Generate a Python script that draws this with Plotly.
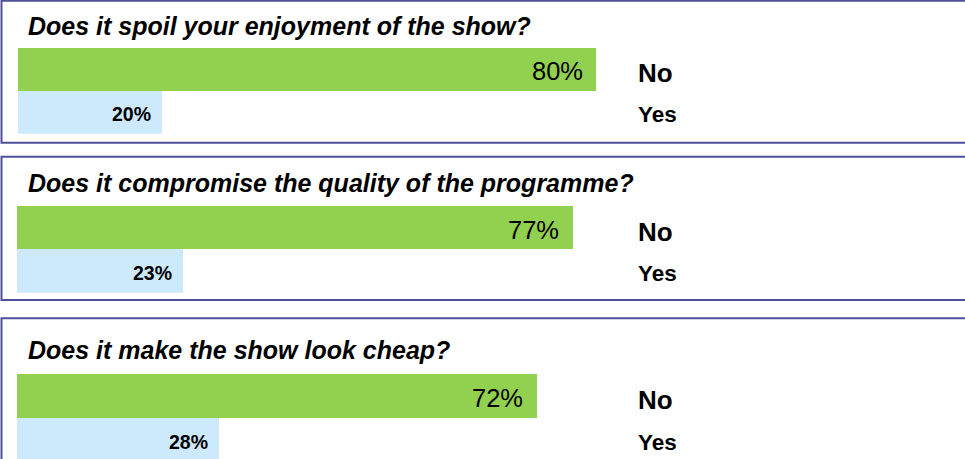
import plotly.graph_objects as go

# ---- data ----
questions = [
    "Does it spoil your enjoyment of the show?",
    "Does it compromise the quality of the programme?",
    "Does it make the show look cheap?",
]
answers = ["Yes", "No"]          # bottom -> top within each panel
no_pct = [80, 77, 72]
yes_pct = [20, 23, 28]

W, H = 965, 459
GREEN = "#92D050"
BLUE = "#CDEAFC"
BORDER = "#50509A"
FONT = "Liberation Sans"

def px(x):
    return x / W

def py(y):
    return 1 - y / H

# panel geometry in pixels (top of bar area, bottom of bar area, bar left)
panels = [
    dict(top=47.7, bot=133.7, left=18.0, box=(0.8, 142.7), title_y=26),
    dict(top=206.0, bot=292.7, left=16.5, box=(156.7, 300.0), title_y=183),
    dict(top=374.0, bot=None, left=16.5, box=(318.3, 470), title_y=350),
]
SCALE = 722  # pixels for 100%

fig = go.Figure()
annotations = []
shapes = []

for i, p in enumerate(panels):
    n = "" if i == 0 else str(i + 1)
    xa, ya = "x" + n, "y" + n
    vals = [yes_pct[i], no_pct[i]]
    fig.add_trace(go.Bar(
        x=vals, y=answers, orientation="h",
        marker=dict(color=[BLUE, GREEN], line=dict(width=0)),
        xaxis=xa, yaxis=ya, showlegend=False, hoverinfo="skip",
    ))
    if p["bot"] is None:
        dom = [0, py(p["top"])]
        cat_h = 44.0
        yr = [1.5 - (H - p["top"]) / cat_h, 1.5]
    else:
        dom = [py(p["bot"]), py(p["top"])]
        yr = [-0.5, 1.5]
    fig.layout["xaxis" + n] = dict(
        domain=[px(p["left"]), px(p["left"] + SCALE)], range=[0, 100],
        visible=False, anchor=ya, fixedrange=True)
    fig.layout["yaxis" + n] = dict(
        domain=dom, range=yr, type="category", categoryorder="array",
        categoryarray=answers, visible=False, anchor=xa, fixedrange=True)

    # title
    annotations.append(dict(
        text="<b><i>%s</i></b>" % questions[i], xref="paper", yref="paper",
        x=px(25.5), y=py(p["title_y"]), xanchor="left", yanchor="middle",
        showarrow=False, font=dict(family=FONT, size=25, color="black")))
    # value labels
    annotations.append(dict(
        text="%d%%" % no_pct[i], xref=xa, yref=ya, x=no_pct[i], y="No",
        xanchor="right", yanchor="middle", xshift=-11, yshift=-2,
        showarrow=False, font=dict(family=FONT, size=25.5, color="black")))
    annotations.append(dict(
        text="<b>%d%%</b>" % yes_pct[i], xref=xa, yref=ya, x=yes_pct[i], y="Yes",
        xanchor="right", yanchor="middle", xshift=-9, yshift=-2,
        showarrow=False, font=dict(family=FONT, size=19.5, color="black")))
    # category labels on right
    annotations.append(dict(
        text="<b>No</b>", xref="paper", yref=ya, x=px(636), y="No",
        xanchor="left", yanchor="middle", yshift=-4,
        showarrow=False, font=dict(family=FONT, size=26, color="black")))
    annotations.append(dict(
        text="<b>Yes</b>", xref="paper", yref=ya, x=px(636), y="Yes",
        xanchor="left", yanchor="middle", yshift=-2,
        showarrow=False, font=dict(family=FONT, size=22.5, color="black")))
    # panel border
    y0, y1 = p["box"]
    shapes.append(dict(
        type="rect", xref="paper", yref="paper",
        x0=px(1.5), x1=px(W + 20), y0=py(y1), y1=py(y0),
        line=dict(color=BORDER, width=2), fillcolor="rgba(0,0,0,0)",
        layer="above"))

fig.update_layout(
    width=W, height=H, margin=dict(l=0, r=0, t=0, b=0),
    paper_bgcolor="white", plot_bgcolor="white",
    bargap=0, annotations=annotations, shapes=shapes,
    font=dict(family=FONT),
)

fig.write_html("out.html", config={"displayModeBar": False})
